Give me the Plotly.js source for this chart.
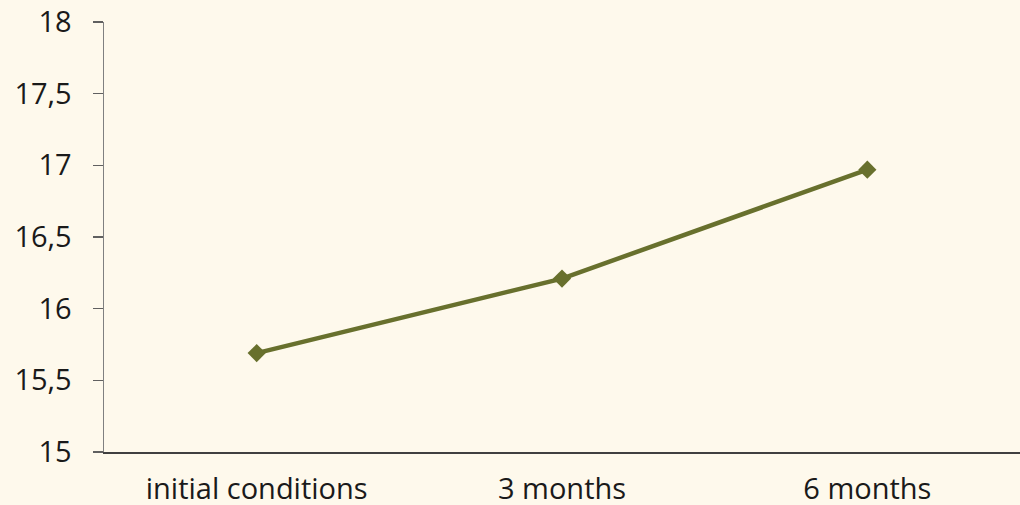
<!DOCTYPE html>
<html>
<head>
<meta charset="utf-8">
<script src="https://cdn.plot.ly/plotly-3.0.1.min.js"></script>
<style>html,body{margin:0;padding:0;background:#fef9ec;}</style>
</head>
<body>
<div id="chart" style="width:1020px;height:505px;"></div>
<script>
var categories = ["initial conditions", "3 months", "6 months"];
var values = [15.69, 16.21, 16.97];
var yTicks = [15, 15.5, 16, 16.5, 17, 17.5, 18];

var trace = {
  x: categories,
  y: values,
  type: "scatter",
  mode: "lines+markers",
  line: {color: "#68702d", width: 4.5},
  marker: {symbol: "diamond", size: 14, color: "#68702d"},
  hoverinfo: "none"
};

var layout = {
  width: 1020,
  height: 505,
  margin: {l: 104, r: 0, t: 22, b: 53, pad: 0},
  paper_bgcolor: "#fef9ec",
  plot_bgcolor: "#fef9ec",
  separators: ",.",
  showlegend: false,
  font: {family: "Open Sans, Noto Sans, sans-serif", size: 29, color: "#1a1a1a"},
  xaxis: {
    type: "category",
    range: [-0.5, 2.5],
    showgrid: false,
    zeroline: false,
    showline: true,
    linecolor: "#404040",
    linewidth: 1.5,
    ticks: "",
    ticklabelstandoff: 11,
    tickfont: {size: 29, color: "#1a1a1a"}
  },
  yaxis: {
    range: [15, 18],
    tickvals: yTicks,
    showgrid: false,
    zeroline: false,
    showline: true,
    linecolor: "#808080",
    linewidth: 1.5,
    ticks: "outside",
    ticklen: 10,
    tickcolor: "#606060",
    tickwidth: 1.5,
    ticklabelstandoff: 15,
    tickfont: {size: 29, color: "#1a1a1a"}
  }
};

Plotly.newPlot("chart", [trace], layout, {staticPlot: true, displayModeBar: false});
</script>
</body>
</html>
